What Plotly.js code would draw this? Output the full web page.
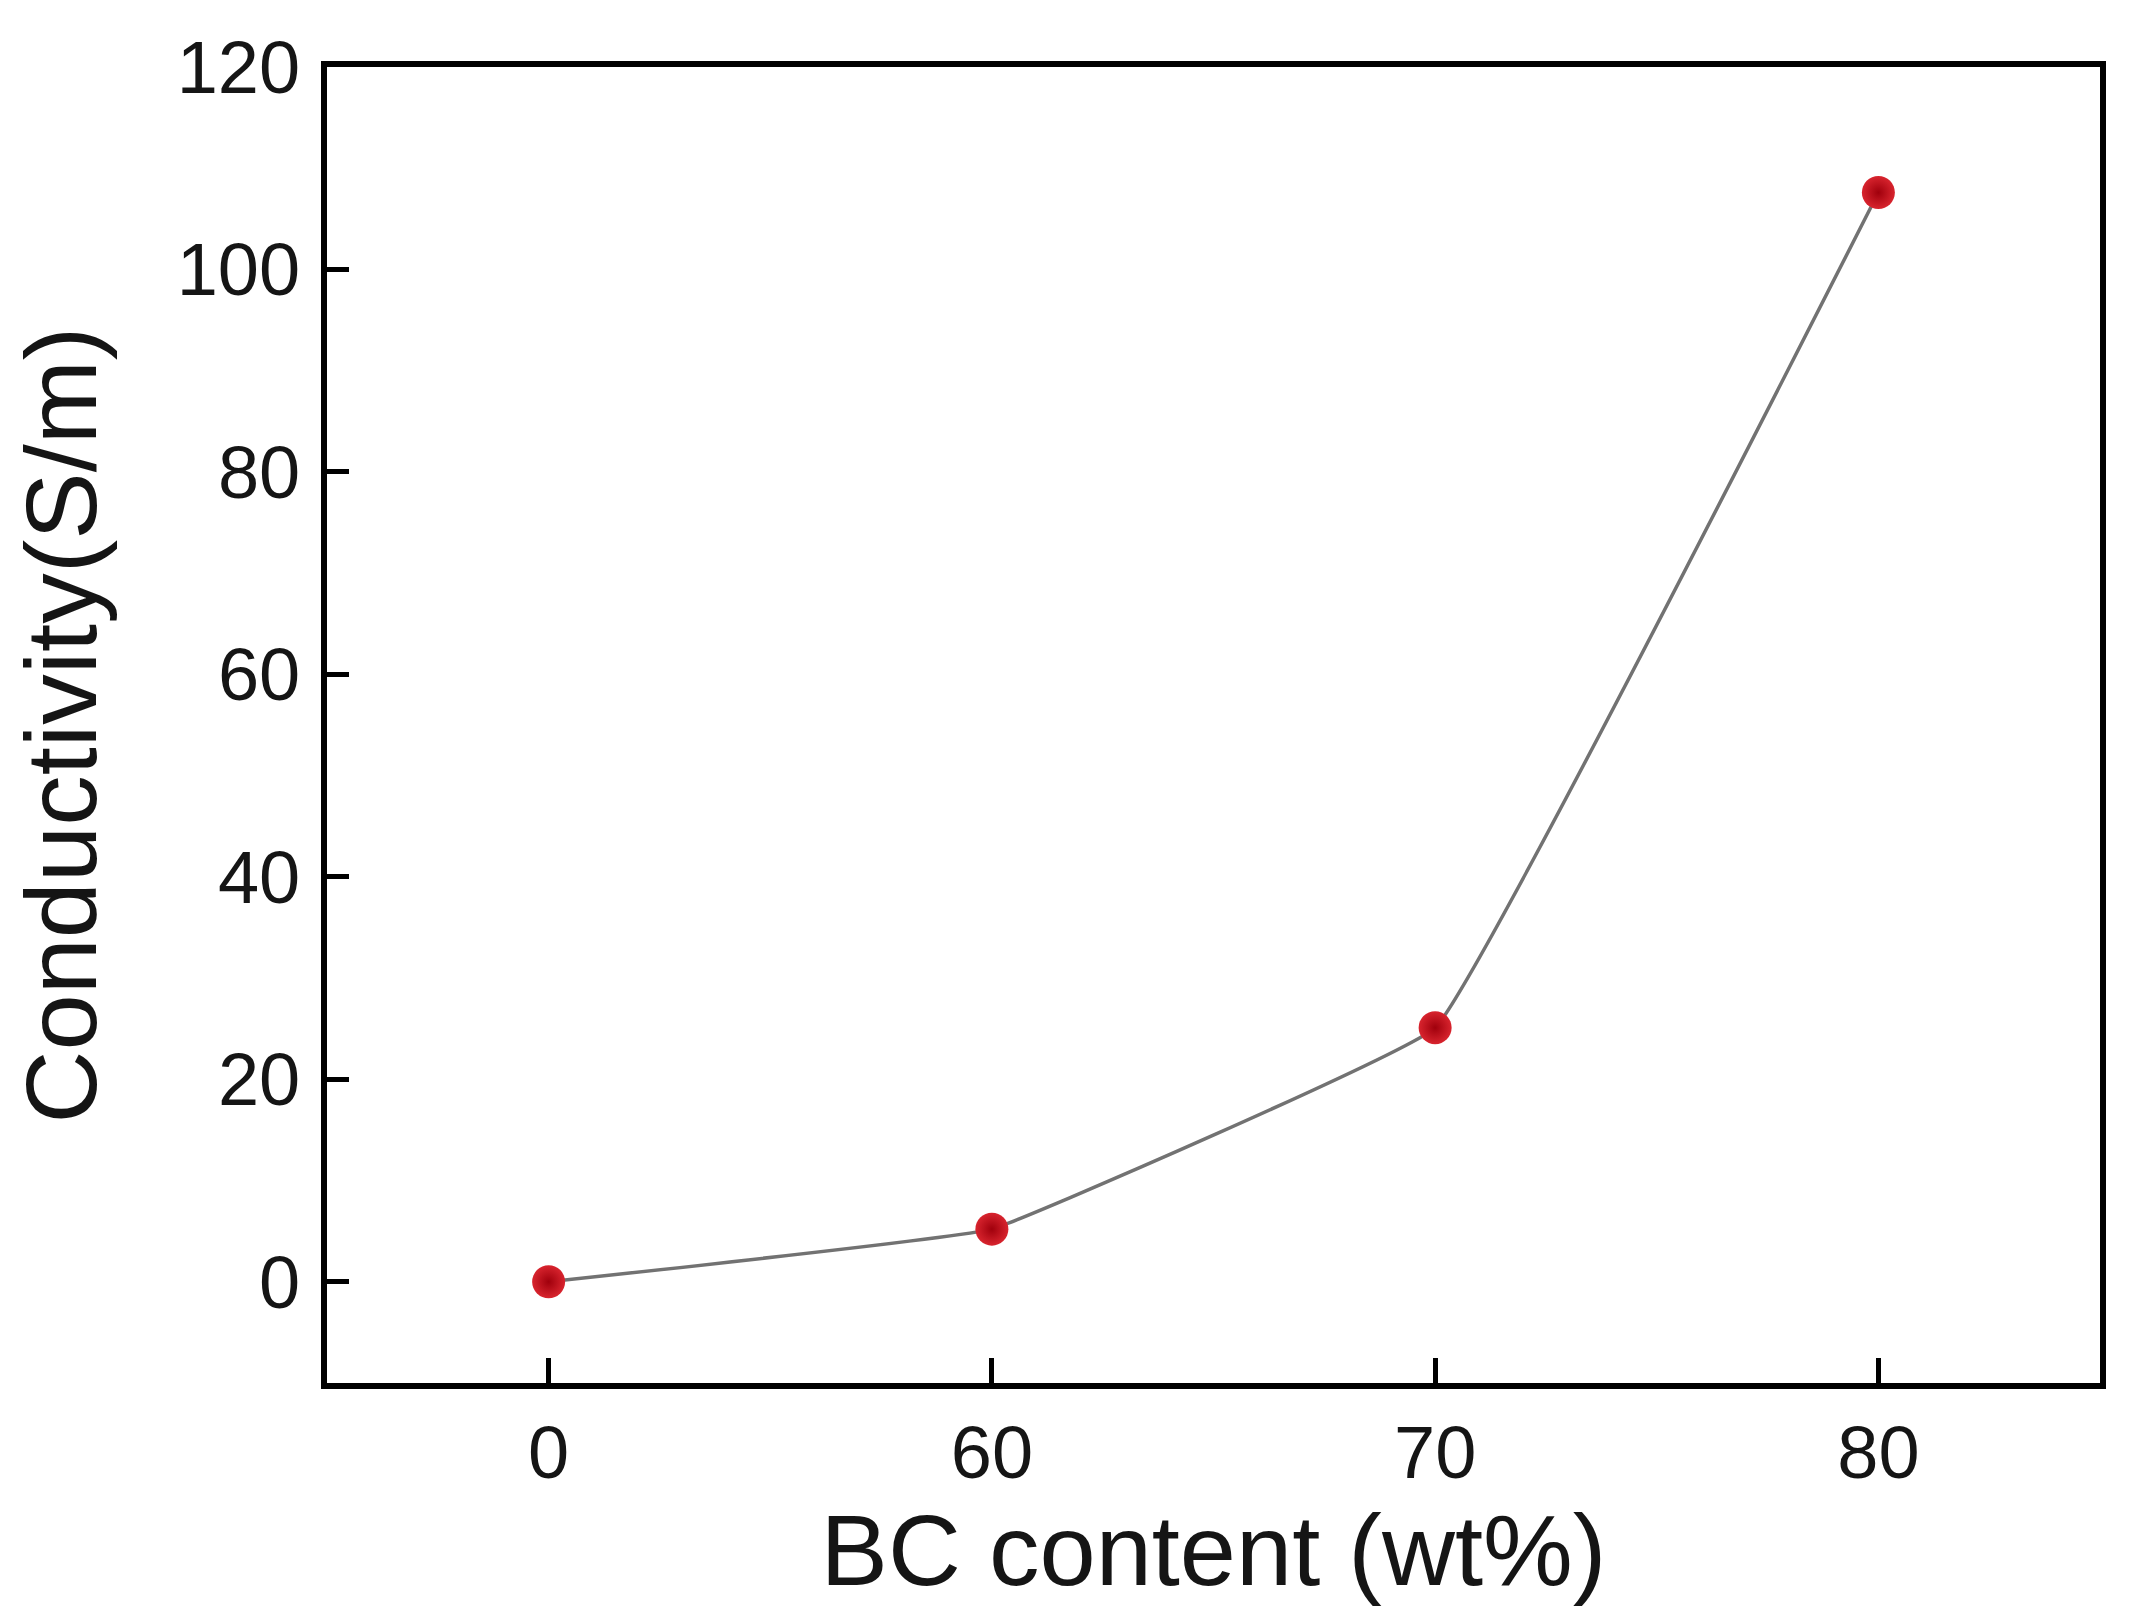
<!DOCTYPE html>
<html>
<head>
<meta charset="utf-8">
<script src="https://cdn.plot.ly/plotly-3.0.1.min.js"></script>
<style>html,body{margin:0;padding:0;background:#fff;}#chart{width:2129px;height:1621px;}</style>
</head>
<body>
<div id="chart"></div>
<script>
const categories = ["0", "60", "70", "80"];
const conductivity = [0, 5.2, 25.1, 107.6];
const yTicks = [0, 20, 40, 60, 80, 100, 120];
const xTitle = "BC content (wt%)";
const yTitle = "Conductivity(S/m)";

const font = "Liberation Sans, Arial, sans-serif";

const trace = {
  type: "scatter",
  mode: "lines+markers",
  x: categories,
  y: conductivity,
  line: {color: "#727272", width: 3.5, shape: "spline", smoothing: 0.2},
  marker: {
    size: 33,
    color: "#d8242e",
    gradient: {type: "radial", color: "#a0000c"},
    line: {width: 0}
  },
  showlegend: false,
  cliponaxis: false
};

const layout = {
  width: 2129,
  height: 1621,
  margin: {l: 327, r: 29, t: 67, b: 238, pad: 0},
  paper_bgcolor: "#ffffff",
  plot_bgcolor: "#ffffff",
  font: {family: font, color: "#151515"},
  xaxis: {
    type: "category",
    range: [-0.5, 3.5],
    showgrid: false,
    zeroline: false,
    showline: true,
    linecolor: "#000000",
    linewidth: 6,
    mirror: true,
    ticks: "inside",
    ticklen: 25,
    tickwidth: 5,
    tickcolor: "#000000",
    tickfont: {size: 74, family: font, color: "#151515"},
    ticklabelstandoff: 0,
    title: {text: xTitle, font: {size: 101, family: font, color: "#151515"}, standoff: 10}
  },
  yaxis: {
    range: [-10, 120],
    tickvals: yTicks,
    ticktext: yTicks.map(String),
    showgrid: false,
    zeroline: false,
    showline: true,
    linecolor: "#000000",
    linewidth: 6,
    mirror: true,
    ticks: "inside",
    ticklen: 22,
    tickwidth: 5,
    tickcolor: "#000000",
    tickfont: {size: 74, family: font, color: "#151515"},
    ticklabelstandoff: 6,
    title: {text: yTitle, font: {size: 101, family: font, color: "#151515"}, standoff: 48}
  }
};

Plotly.newPlot("chart", [trace], layout, {displayModeBar: false, staticPlot: true});
</script>
</body>
</html>
